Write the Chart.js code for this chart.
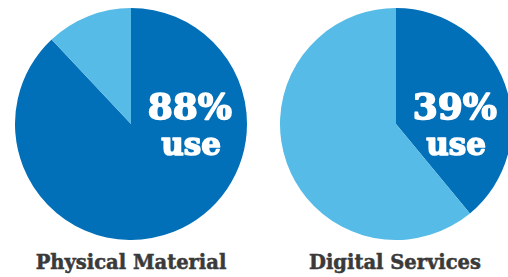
<!DOCTYPE html>
<html>
<head>
<meta charset="utf-8">
<script src="https://cdn.jsdelivr.net/npm/chart.js@4"></script>
<style>
  html, body { margin: 0; padding: 0; width: 508px; height: 277px; overflow: hidden; background: #fff; }
  .pie { position: absolute; top: 8px; width: 232px; height: 232px; }
  .label {
    position: absolute; top: 251px; width: 260px; text-align: center;
    font-family: "DejaVu Serif", serif; font-weight: bold; font-size: 19.5px; color: #3a3a3a;
    -webkit-text-stroke: 0.5px #3a3a3a;
  }
</style>
</head>
<body>
<div class="pie" style="left:15px"><canvas id="pie0" width="232" height="232"></canvas></div>
<div class="pie" style="left:280px"><canvas id="pie1" width="232" height="232"></canvas></div>
<div class="label" id="label0" style="left:1px"></div>
<div class="label" id="label1" style="left:265px"></div>
<script>
// share of respondents who use each kind of resource
const categories = ["Physical Material", "Digital Services"];
const useShare = [88, 39];
const notUseShare = [12, 61];

const DARK = "#0270b8";
const LIGHT = "#56bbe6";

// big white percentage + "use" inside the dark slice
const centerText = {
  id: "centerText",
  afterDraw(chart, args, opts) {
    const ctx = chart.ctx;
    const cx = (chart.chartArea.left + chart.chartArea.right) / 2;
    const cy = (chart.chartArea.top + chart.chartArea.bottom) / 2;
    ctx.save();
    ctx.fillStyle = "#fff";
    ctx.strokeStyle = "#fff";
    ctx.lineWidth = 1.6;
    ctx.lineJoin = "round";
    ctx.textAlign = "right";
    ctx.textBaseline = "alphabetic";
    ctx.font = "bold 36px 'DejaVu Serif'";
    ctx.fillText(opts.value + "%", cx + 101, cy - 5);
    ctx.strokeText(opts.value + "%", cx + 101, cy - 5);
    ctx.font = "bold 31px 'DejaVu Serif'";
    ctx.fillText("use", cx + 90, cy + 31);
    ctx.strokeText("use", cx + 90, cy + 31);
    ctx.restore();
  }
};

categories.forEach((name, i) => {
  document.getElementById("label" + i).textContent = name;
  new Chart(document.getElementById("pie" + i), {
    type: "pie",
    data: {
      labels: ["Use", "Do not use"],
      datasets: [{
        data: [useShare[i], notUseShare[i]],
        backgroundColor: [DARK, LIGHT],
        borderWidth: 0,
        hoverOffset: 0
      }]
    },
    options: {
      responsive: false,
      animation: false,
      layout: { padding: 0 },
      plugins: {
        legend: { display: false },
        tooltip: { enabled: false },
        centerText: { value: useShare[i] }
      }
    },
    plugins: [centerText]
  });
});
</script>
</body>
</html>
